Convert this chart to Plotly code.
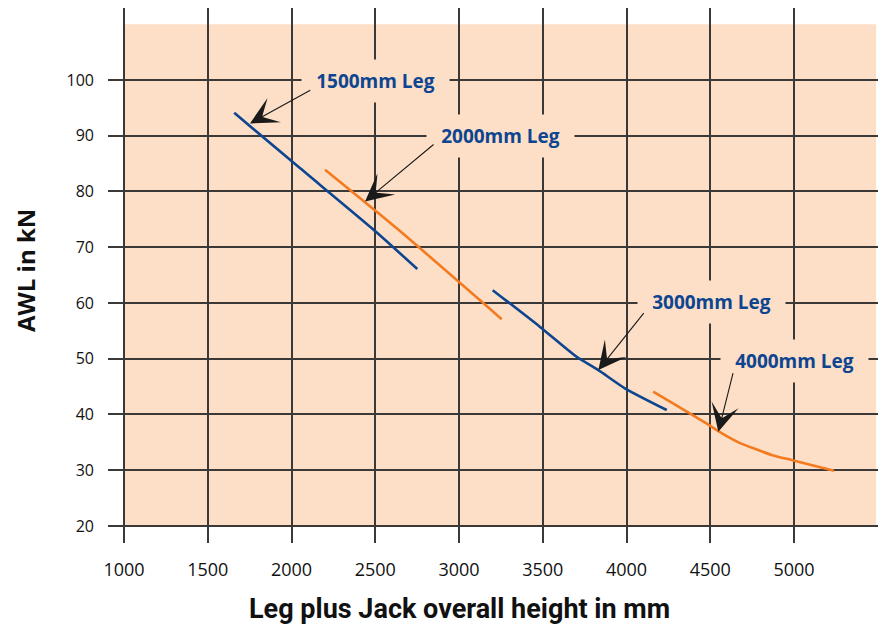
import plotly.graph_objects as go

# ---- data ----
leg1500_x = [1658, 2050, 2480, 2751]
leg1500_y = [94.1, 84.2, 73.4, 66.1]

leg2000_x = [2200, 2628, 3255]
leg2000_y = [83.9, 73.4, 57.1]

leg3000_x = [3201, 3480, 3700, 3830, 3990, 4240]
leg3000_y = [62.3, 55.8, 50.4, 48.0, 44.7, 40.8]

leg4000_x = [4159, 4493, 4543, 4662, 4871, 4990, 5239]
leg4000_y = [44.1, 38.1, 37.1, 35.1, 32.7, 31.8, 29.9]

x_ticks = [1000, 1500, 2000, 2500, 3000, 3500, 4000, 4500, 5000]
y_ticks = [20, 30, 40, 50, 60, 70, 80, 90, 100]

labels = ["1500mm Leg", "2000mm Leg", "3000mm Leg", "4000mm Leg"]
label_x = [2500, 3250, 4505, 5000]
label_y = [99.8, 90.0, 60.1, 49.6]
# arrow tail / head positions
arrow_tail_x = [2121, 2857, 4110, 4638]
arrow_tail_y = [98.3, 88.65, 58.45, 47.7]
arrow_head_x = [1752, 2439, 3832, 4548]
arrow_head_y = [92.2, 78.2, 48.0, 36.9]

BLUE = "#0d4590"
ORANGE = "#f47a20"
PEACH = "#fcdfc6"
GRID = "#3b3838"
LABEL_BLUE = "#0d4590"

fig = go.Figure()
for xs, ys, c in [(leg1500_x, leg1500_y, BLUE), (leg2000_x, leg2000_y, ORANGE),
                  (leg3000_x, leg3000_y, BLUE), (leg4000_x, leg4000_y, ORANGE)]:
    fig.add_trace(go.Scatter(x=xs, y=ys, mode="lines",
                             line=dict(color=c, width=2.6, shape="spline", smoothing=0.6),
                             showlegend=False, hoverinfo="skip"))

# peach background panel
fig.add_shape(type="rect", xref="x", yref="y", x0=1000, x1=5490, y0=20, y1=110,
              fillcolor=PEACH, line=dict(width=0), layer="below")

annotations = []
for t, lx, ly in zip(labels, label_x, label_y):
    annotations.append(dict(x=lx, y=ly, xref="x", yref="y", text=t, showarrow=False,
                            font=dict(family="Open Sans", size=19, color=LABEL_BLUE, weight="bold"),
                            bgcolor=PEACH, width=147, height=42, borderpad=0,
                            align="center", valign="middle"))
for tx, ty, hx, hy in zip(arrow_tail_x, arrow_tail_y, arrow_head_x, arrow_head_y):
    annotations.append(dict(x=hx, y=hy, ax=tx, ay=ty, xref="x", yref="y", axref="x", ayref="y",
                            text="", showarrow=True, arrowhead=3, arrowsize=4.2, arrowwidth=1.1,
                            arrowcolor="#1a1a1a", standoff=0))

# the page places the figure 8px in from the top-left corner
OFF = 8
W, H = 886 - OFF, 628 - OFF
ml, mr, mt, mb = 108 - OFF, 0, 0, 85
pw, ph = W - ml - mr, H - mt - mb

# axis titles (window pixel positions converted to paper coordinates)
annotations.append(dict(x=(25 - OFF - ml) / pw, y=1 - (271 - OFF - mt) / ph, xref="paper", yref="paper",
                        xanchor="center", yanchor="middle",
                        text="AWL in kN", showarrow=False, textangle=-90,
                        font=dict(family="Open Sans", size=24, color="#111", weight="bold")))
annotations.append(dict(x=(459 - OFF - ml) / pw, y=1 - (609 - OFF - mt) / ph, xref="paper", yref="paper",
                        xanchor="center", yanchor="middle",
                        text="Leg plus Jack overall height in mm", showarrow=False,
                        font=dict(family="Roboto", size=27, color="#111", weight="bold")))

TICKFONT = dict(family="Liberation Sans Narrow, Open Sans", size=18, color="#111")
fig.update_layout(
    width=W, height=H,
    margin=dict(l=ml, r=mr, t=mt, b=mb, autoexpand=False),
    paper_bgcolor="white", plot_bgcolor="white",
    annotations=annotations,
    xaxis=dict(range=[904.5, 5549], tickvals=x_ticks, ticktext=[str(v) for v in x_ticks],
               showgrid=True, gridcolor=GRID, gridwidth=1.6, zeroline=False, showline=False,
               ticks="", ticklabelstandoff=14, automargin=False, tickfont=TICKFONT),
    yaxis=dict(range=[16.95, 112.91], tickvals=y_ticks, ticktext=[str(v) for v in y_ticks],
               showgrid=True, gridcolor=GRID, gridwidth=1.6, zeroline=False, showline=False,
               ticks="", ticklabelstandoff=13, automargin=False,
               tickfont=dict(family="Open Sans", size=16, color="#111")),
)

fig.write_html("out.html")
